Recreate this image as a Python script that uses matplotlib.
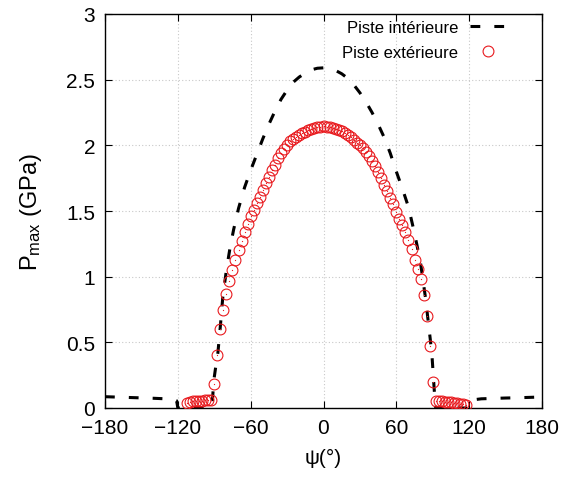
import matplotlib
matplotlib.use("Agg")
import matplotlib.pyplot as plt

plt.rcParams['font.family'] = ['Liberation Sans', 'DejaVu Sans']
plt.rcParams['mathtext.default'] = 'regular'

# Inner track (dashed black line)
psi_inner = [-180, -170, -160, -150, -140, -130, -124, -121, -120, -100, -93, -91.5,
             -90.5, -89, -87, -85, -83, -80, -77, -74, -70, -65, -60, -55, -50, -45,
             -40, -35, -30, -25, -20, -15, -10, -5, 0, 5, 10, 15, 20, 25, 30, 35, 40,
             45, 50, 55, 60, 65, 70, 74, 77, 80, 82, 84, 86, 88, 89.5, 90.5, 91.5,
             92.5, 100, 118.5, 120, 123, 130, 140, 150, 160, 170, 180]
p_inner = [0.086, 0.083, 0.080, 0.077, 0.074, 0.070, 0.066, 0.055, 0.0, 0.0, 0.0, 0.05,
           0.20, 0.30, 0.42, 0.62, 0.84, 1.05, 1.22, 1.36, 1.52, 1.68, 1.81, 1.93, 2.05,
           2.16, 2.26, 2.35, 2.42, 2.48, 2.52, 2.55, 2.575, 2.587, 2.59, 2.585, 2.57,
           2.545, 2.51, 2.46, 2.40, 2.33, 2.25, 2.16, 2.06, 1.94, 1.80, 1.67, 1.53, 1.37,
           1.24, 1.10, 0.97, 0.84, 0.68, 0.52, 0.38, 0.24, 0.10, 0.0, 0.0, 0.0, 0.03,
           0.062, 0.070, 0.073, 0.076, 0.078, 0.081, 0.084]

# Outer track (red circles)
psi_outer = [-112.5, -110, -107.5, -105, -102.5, -100, -97.5, -95, -92.5, -90, -87.5,
             -85, -82.5, -80, -77.5, -75, -72.5, -70, -67.5, -65, -62.5, -60, -57.5,
             -55, -52.5, -50, -47.5, -45, -42.5, -40, -37.5, -35, -32.5, -30, -27.5,
             -25, -22.5, -20, -17.5, -15, -12.5, -10, -7.5, -5, -2.5, 0, 2.5, 5, 7.5,
             10, 12.5, 15, 17.5, 20, 22.5, 25, 27.5, 30, 32.5, 35, 37.5, 40, 42.5, 45,
             47.5, 50, 52.5, 55, 57.5, 60, 62.5, 65, 67.5, 70, 72.5, 75, 77.5, 80, 82.5,
             85, 87.5, 90, 92.5, 95, 97.5, 100, 102.5, 105, 107.5, 110, 112.5, 115,
             117.5]
p_outer = [0.040, 0.045, 0.050, 0.052, 0.055, 0.057, 0.058, 0.060, 0.060, 0.18, 0.40,
           0.60, 0.75, 0.87, 0.97, 1.05, 1.13, 1.20, 1.27, 1.34, 1.40, 1.46, 1.51,
           1.56, 1.61, 1.66, 1.71, 1.76, 1.81, 1.85, 1.90, 1.94, 1.97, 2.00, 2.03,
           2.05, 2.065, 2.08, 2.095, 2.105, 2.115, 2.125, 2.13, 2.138, 2.142, 2.145,
           2.142, 2.138, 2.133, 2.127, 2.12, 2.11, 2.095, 2.08, 2.06, 2.04, 2.02, 2.00,
           1.98, 1.95, 1.92, 1.88, 1.84, 1.80, 1.75, 1.70, 1.65, 1.60, 1.55, 1.49,
           1.44, 1.39, 1.34, 1.28, 1.21, 1.13, 1.06, 0.98, 0.86, 0.70, 0.47, 0.20,
           0.055, 0.052, 0.050, 0.048, 0.046, 0.044, 0.041, 0.038, 0.034, 0.030, 0.026]

xticks = [-180, -120, -60, 0, 60, 120, 180]
xticklabels = ['\u2212180', '\u2212120', '\u221260', '0', '60', '120', '180']
yticks = [0, 0.5, 1, 1.5, 2, 2.5, 3]
yticklabels = ['0', '0.5', '1', '1.5', '2', '2.5', '3']

fig = plt.figure(figsize=(5.63, 4.85), dpi=100)
ax = fig.add_axes([105/563, 76/485, 437/563, 394/485])

ax.plot(psi_inner, p_inner, color='black', lw=2.2, linestyle=(0, (3.2, 4.6)),
        dash_capstyle='butt', label='Piste intérieure', zorder=3)
ax.plot(psi_outer, p_outer, linestyle='none', marker='o', markersize=7.8,
        markerfacecolor='none', markeredgecolor='#e8191d', markeredgewidth=0.8,
        label='Piste extérieure', zorder=4)
ax.plot(psi_outer, p_outer, linestyle='none', marker='o', markersize=0.9,
        markerfacecolor='#e8191d', markeredgecolor='#e8191d', markeredgewidth=0,
        zorder=4)

ax.set_xlim(-180, 180)
ax.set_ylim(0, 3)
ax.set_xticks(xticks)
ax.set_xticklabels(xticklabels)
ax.set_yticks(yticks)
ax.set_yticklabels(yticklabels)
ax.tick_params(direction='in', length=5, width=0.8, top=True, right=True,
               labelsize=15, pad=7)
ax.grid(True, color='#c8c8c8', linestyle=(0, (1, 2)), linewidth=0.8)
for s in ax.spines.values():
    s.set_linewidth(1.0)

ax.set_xlabel('\u03c8(\u00b0)', fontsize=15, labelpad=8)
ax.set_ylabel(r'P$_{max}$ (GPa)', fontsize=17, labelpad=16)

leg = ax.legend(loc='upper right', bbox_to_anchor=(400/437, 0.984), frameon=False,
                markerfirst=False, fontsize=12, handlelength=2.1, borderaxespad=0,
                borderpad=0, labelspacing=0.6, handletextpad=0.7)

fig.savefig('out.png', dpi=100)
